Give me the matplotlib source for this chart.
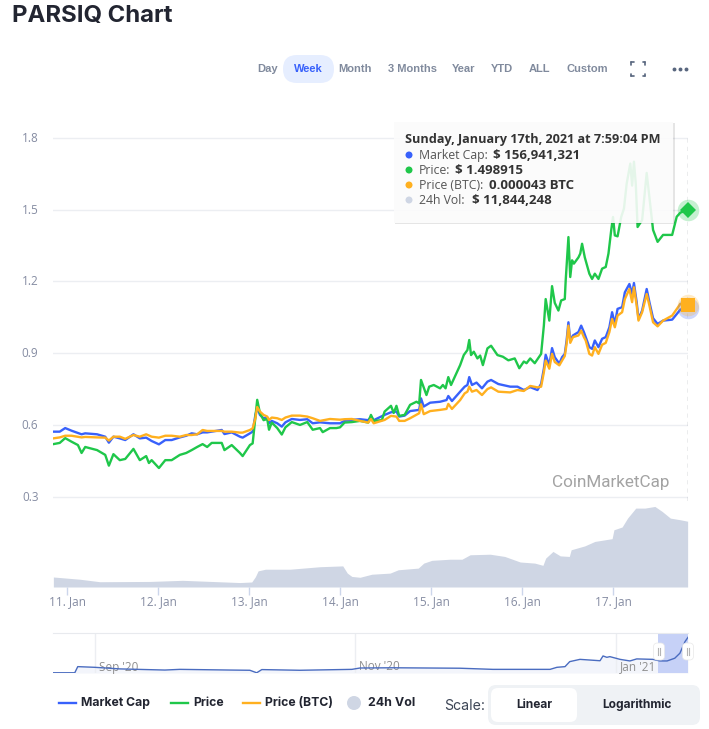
import matplotlib
matplotlib.use("Agg")
import matplotlib.pyplot as plt
from matplotlib.patches import FancyBboxPatch, Rectangle, Circle
from matplotlib.transforms import ScaledTranslation

W, H = 709, 729
BLUE, GREEN, ORANGE, VOLC = "#3861fb", "#1fc74a", "#ffb01f", "#cfd6e4"
plt.rcParams["font.family"] = ["Open Sans", "DejaVu Sans"]

# ------- data (days of January 2021; line values as read on the left scale)
price_days = [10.85,10.92,10.98,11.05,11.12,11.16,11.20,11.33,11.42,11.46,11.51,11.58,11.64,11.73,11.80,11.87,11.90,11.93,12.01,12.08,12.15,12.24,12.31,12.37,12.43,12.49,12.54,12.59,12.70,12.73,12.81,12.90,12.93,13.01,13.04,13.07,13.09,13.12,13.16,13.20,13.22,13.25,13.31,13.36,13.40,13.47,13.56,13.64,13.70,13.78,13.81,13.89,13.96,14.00,14.05,14.13,14.22,14.31,14.34,14.37,14.46,14.49,14.56,14.59,14.62,14.65,14.71,14.77,14.84,14.87,14.89,14.91,14.95,14.98,15.03,15.10,15.13,15.16,15.19,15.22,15.26,15.32,15.36,15.40,15.42,15.44,15.47,15.51,15.54,15.57,15.62,15.66,15.73,15.79,15.85,15.92,15.97,16.02,16.05,16.09,16.14,16.21,16.24,16.26,16.30,16.33,16.36,16.40,16.43,16.47,16.48,16.51,16.53,16.55,16.57,16.62,16.64,16.66,16.69,16.74,16.77,16.80,16.84,16.88,16.92,16.95,16.98,17.00,17.02,17.05,17.09,17.12,17.15,17.19,17.21,17.23,17.25,17.27,17.32,17.37,17.44,17.49,17.55,17.65,17.70,17.74,17.82]
price_values = [.52,.525,.545,.53,.516,.483,.508,.495,.475,.43,.478,.453,.458,.50,.453,.47,.441,.453,.42,.453,.453,.475,.483,.495,.508,.52,.508,.525,.525,.495,.516,.483,.47,.516,.523,.63,.705,.65,.62,.625,.58,.61,.587,.56,.59,.612,.60,.612,.58,.587,.57,.587,.587,.59,.61,.612,.617,.61,.642,.617,.62,.656,.68,.65,.68,.638,.642,.684,.697,.69,.788,.767,.725,.76,.767,.753,.767,.753,.80,.767,.80,.85,.892,.913,.955,.892,.906,.878,.89,.85,.92,.931,.892,.885,.87,.878,.837,.865,.858,.878,.858,.897,1.015,1.126,1.036,1.18,1.11,1.078,1.12,1.126,1.204,1.385,1.218,1.288,1.274,1.30,1.316,1.357,1.30,1.232,1.21,1.232,1.21,1.253,1.26,1.316,1.413,1.469,1.392,1.388,1.469,1.504,1.608,1.692,1.60,1.70,1.608,1.427,1.456,1.653,1.415,1.365,1.394,1.394,1.47,1.487,1.499]

cap_days = [10.85,10.92,10.98,11.05,11.16,11.20,11.33,11.42,11.46,11.51,11.58,11.64,11.73,11.80,11.87,11.93,12.01,12.08,12.15,12.24,12.31,12.37,12.43,12.49,12.54,12.70,12.73,12.81,12.90,12.93,13.01,13.04,13.07,13.09,13.12,13.16,13.20,13.22,13.25,13.31,13.36,13.40,13.47,13.56,13.64,13.70,13.78,13.89,14.00,14.05,14.13,14.22,14.31,14.34,14.37,14.49,14.56,14.62,14.65,14.71,14.77,14.87,14.89,14.92,14.99,15.10,15.17,15.19,15.23,15.32,15.37,15.40,15.42,15.45,15.50,15.56,15.62,15.66,15.74,15.87,15.95,16.02,16.09,16.17,16.21,16.24,16.26,16.30,16.33,16.36,16.41,16.44,16.47,16.49,16.51,16.53,16.56,16.62,16.65,16.68,16.70,16.74,16.77,16.80,16.84,16.88,16.92,16.96,16.99,17.02,17.05,17.10,17.13,17.18,17.21,17.23,17.26,17.28,17.32,17.37,17.40,17.44,17.49,17.55,17.65,17.74,17.82]
cap_values = [.572,.572,.587,.576,.561,.565,.561,.551,.526,.551,.544,.537,.561,.544,.547,.533,.519,.537,.537,.548,.555,.565,.561,.569,.569,.579,.562,.569,.551,.547,.565,.572,.642,.672,.642,.628,.631,.607,.617,.607,.593,.611,.625,.621,.624,.607,.611,.607,.607,.617,.621,.624,.62,.635,.62,.642,.653,.656,.635,.639,.658,.663,.711,.677,.693,.697,.704,.721,.70,.739,.76,.767,.80,.767,.777,.753,.781,.788,.771,.76,.76,.746,.758,.746,.772,.835,.893,.849,.921,.883,.856,.883,.897,.953,1.029,.953,.974,.988,1.015,.988,.967,.925,.918,.953,.925,.96,.967,1.008,1.071,1.022,1.085,1.092,1.154,1.189,1.147,1.193,1.113,1.043,1.078,1.168,1.113,1.046,1.022,1.036,1.04,1.082,1.089]
btc_values = [.544,.548,.555,.555,.548,.55,.548,.547,.535,.551,.551,.542,.558,.551,.561,.551,.547,.555,.555,.551,.558,.558,.561,.579,.575,.575,.572,.572,.568,.568,.579,.586,.628,.675,.656,.642,.635,.621,.631,.628,.621,.631,.639,.639,.635,.628,.617,.625,.622,.624,.625,.617,.61,.625,.607,.621,.638,.635,.617,.617,.628,.649,.686,.645,.658,.663,.667,.688,.667,.704,.732,.739,.76,.739,.746,.725,.75,.757,.739,.736,.746,.742,.763,.757,.76,.82,.869,.835,.897,.863,.849,.869,.888,.939,1.015,.943,.967,.974,.994,.967,.953,.897,.89,.925,.897,.935,.943,.988,1.043,1.008,1.057,1.071,1.126,1.168,1.113,1.175,1.099,1.036,1.071,1.147,1.099,1.029,1.012,1.036,1.057,1.106,1.10]

vol_days = [10.85,11.14,11.36,11.91,12.27,12.90,13.03,13.07,13.10,13.18,13.45,13.78,14.03,14.08,14.13,14.22,14.35,14.55,14.64,14.86,14.92,15.01,15.21,15.34,15.43,15.65,15.81,15.98,16.14,16.23,16.26,16.34,16.42,16.52,16.54,16.69,16.80,16.99,17.01,17.10,17.16,17.25,17.35,17.46,17.54,17.63,17.74,17.82]
vol_values = [1.8,1.4,.95,1.0,1.2,.8,.9,1.85,2.9,3.2,3.2,3.65,3.8,2.5,1.9,1.75,2.3,2.5,3.1,3.4,4.3,4.8,5.0,5.0,5.8,5.9,5.5,4.5,4.3,3.9,5.2,6.4,5.6,5.5,6.7,7.4,8.2,8.7,10.3,10.8,12.4,14.2,14.2,14.5,13.6,12.4,12.1,11.84]

nav_days = [-9.8,-4.7,-4,0,5.9,16.4,19.9,31.6,36.3,37.9,39.1,48,60.2,62.1,69.8,85.5,93.2,106.6,108.2,110.1,111.2,113.6,118.3,119,119.9,120.6,123,125.3,126.9,130.7,132.3,134,135.8,137,138.2,138.9]
nav_values = [1,1,28,25,18,13,16,13,12,1,15,12,16,22,23,21,16,16,25,28,50,60,54,75,69,72,60,53,62,60,53,53,65,87,138,157]

y_ticks = [.3,.6,.9,1.2,1.5,1.8]
day_ticks = [11,12,13,14,15,16,17]
day_labels = ["11. Jan","12. Jan","13. Jan","14. Jan","15. Jan","16. Jan","17. Jan"]
nav_ticks = [0,61,122]
nav_labels = ["Sep '20","Nov '20","Jan '21"]
range_buttons = ["Day","Week","Month","3 Months","Year","YTD","ALL","Custom"]
tip_rows = [("Market Cap:","$ 156,941,321"),("Price:","$ 1.498915"),("Price (BTC):","0.000043 BTC"),("24h Vol:","$ 11,844,248")]
legend_names = ["Market Cap","Price","Price (BTC)","24h Vol"]

def box(l, t, r, b):
    return [l/W, 1-b/H, (r-l)/W, (b-t)/H]

fig = plt.figure(figsize=(W/100, H/100), dpi=100, facecolor="white")

# ------- main chart
ax = fig.add_axes(box(53,115,688,587))
vol = ax.twinx()
ax.set_zorder(vol.get_zorder()+1)
ax.patch.set_visible(False)
vol.fill_between(vol_days, vol_values, 0, color=VOLC, lw=0)
vol.set_ylim(0, 84.96)
vol.axis("off")
ax.set_xlim(10.846, 17.824)
ax.set_ylim(-0.077, 1.895)
ax.set_yticks(y_ticks, [f"{v:.1f}" for v in y_ticks])
ax.set_xticks(day_ticks, day_labels)
ax.grid(axis="y", color="#eceef2", lw=1)
ax.set_axisbelow(True)
for s in ax.spines.values():
    s.set_visible(False)
ax.tick_params(axis="y", length=0, pad=10.5, labelsize=8.5, labelcolor="#858ca2")
ax.tick_params(axis="x", length=6, width=1, color="#ccd6eb", pad=-0.5, labelsize=8.5, labelcolor="#858ca2")
up = ScaledTranslation(0, 1/100, fig.dpi_scale_trans)
for lab in ax.get_yticklabels():
    lab.set_transform(lab.get_transform() + up)
ax.plot([price_days[-1]]*2, [1.8, 0.275], color="#9a9fa8", lw=1, ls=(0,(3,3)), zorder=2)
ax.plot(cap_days, cap_values, color=BLUE, lw=1.7, zorder=3)
ax.plot(price_days, price_values, color=GREEN, lw=1.7, zorder=4)
ax.plot(cap_days, btc_values, color=ORANGE, lw=1.7, zorder=5)
for days, vals, c, m, ms in [(cap_days,cap_values,BLUE,"o",5),(price_days,price_values,GREEN,"D",8),(cap_days,btc_values,ORANGE,"s",10)]:
    ax.plot(days[-1], vals[-1], "o", ms=15.5, color=c, alpha=.25, mew=0, clip_on=False, zorder=6)
    ax.plot(days[-1], vals[-1], m, ms=ms, color=c, mew=0, clip_on=False, zorder=7)

# ------- navigator
nav = fig.add_axes(box(53,633,688,673))
nav.fill_between(nav_days, nav_values, 0, color="#f3f5fb", lw=0, zorder=1)
nav.axvspan(131.9, 138.9, color="#c6d1f7", lw=0, zorder=1.2)
nav.plot(nav_days, nav_values, color="#4a6cc0", lw=1, zorder=3)
nav.set_xlim(-9.8, 138.9)
nav.set_ylim(0, 176)
nav.set_yticks([])
nav.set_xticks(nav_ticks, nav_labels)
nav.grid(axis="x", color="#eceef2", lw=1)
nav.set_axisbelow("line")
for k, s in nav.spines.items():
    s.set_visible(k == "top")
    s.set_color("#e8eaee")
nav.tick_params(axis="x", length=0, pad=-9, labelsize=8.5, labelcolor="#8f8f8f")
off = ScaledTranslation(4/100, 0, fig.dpi_scale_trans)
for lab in nav.get_xticklabels():
    lab.set_ha("left")
    lab.set_transform(lab.get_transform() + off)

# ------- page chrome drawn in pixel coordinates
ui = fig.add_axes([0,0,1,1], facecolor="none")
ui.set_xlim(0, W); ui.set_ylim(H, 0); ui.axis("off"); ui.set_zorder(10)

def rrect(l, t, r, b, rad, **kw):
    p = FancyBboxPatch((l+rad, t+rad), r-l-2*rad, b-t-2*rad, boxstyle=f"round,pad={rad},rounding_size={rad}", lw=kw.pop("lw",0), **kw)
    ui.add_patch(p)
    return p

ui.text(12, 16, "PARSIQ Chart", fontsize=17.2, fontweight="bold", family="Inter", color="#222531", va="center")

rrect(283, 55, 334, 83, 14, fc="#e6eeff")
btn_x = [268,308.5,355,412,463.5,502,539,587]
for name, x in zip(range_buttons, btn_x):
    ui.text(x, 69, name, fontsize=8, fontweight="bold", family="Liberation Sans", ha="center", va="center",
            color=BLUE if name == "Week" else "#808a9d")
for sx, sy in [(1,1),(-1,1),(1,-1),(-1,-1)]:
    cx, cy = 638+sx*7, 69+sy*7
    ui.plot([cx, cx-sx*2.5], [cy, cy], color="#58667e", lw=1.2, solid_capstyle="round")
    ui.plot([cx, cx], [cy, cy-sy*2.5], color="#58667e", lw=1.2, solid_capstyle="round")
ui.plot([674,680,686], [69,69,69], "o", ms=2.8, color="#58667e", mew=0)

ui.text(669, 482, "CoinMarketCap", fontsize=12.3, family="Roboto", color="#a3a3a3", ha="right", va="center", zorder=1)

# tooltip
ui.add_patch(Rectangle((395,222.5), 279, 1.5, fc="#000000", alpha=.10, lw=0))
ui.add_patch(Rectangle((673,123), 1.5, 100, fc="#000000", alpha=.10, lw=0))
ui.add_patch(Rectangle((394,122), 279, 100.5, fc="#fbfbfb", alpha=.9, lw=0))
ui.text(405, 139, "Sunday, January 17th, 2021 at 7:59:04 PM", fontsize=9.1, fontweight="bold", color="#333333", va="center")
tip_cols = [BLUE, GREEN, ORANGE, VOLC]
tip_val_x = [493, 455, 489, 472]
for i, ((a, b), c, vx) in enumerate(zip(tip_rows, tip_cols, tip_val_x)):
    y = 155 + i*15
    ui.add_patch(Circle((409, y), 3.5, fc=c, lw=0))
    ui.text(419, y, a, fontsize=8.8, color="#555555", va="center")
    ui.text(vx, y, b, fontsize=9.5, fontweight="bold", color="#333333", va="center")

# navigator handles
for x in (659, 688):
    rrect(x-5.5, 643, x+5.5, 660, 4, fc="white", ec="#e8e8e8", lw=.5)
    ui.plot([x-1.2, x-1.2], [648, 655], color="#b5b5b5", lw=.8)
    ui.plot([x+1.2, x+1.2], [648, 655], color="#b5b5b5", lw=.8)

# legend
leg_line_x = [59, 171, 243]
leg_text_x = [81, 193, 265]
for n, lx, tx, c in zip(legend_names, leg_line_x, leg_text_x, [BLUE, GREEN, ORANGE]):
    ui.plot([lx, lx+17], [703, 703], color=c, lw=1.7)
    ui.text(tx, 703, n, fontsize=8.8, fontweight="bold", family="Inter", color="#222531", va="center")
ui.add_patch(Circle((354, 703), 7, fc=VOLC, lw=0))
ui.text(368, 703, legend_names[3], fontsize=9, fontweight="bold", family="Inter", color="#222531", va="center")

ui.text(444, 706, "Scale:", fontsize=10.2, family="Inter", color="#3d4656", va="center")
rrect(488, 685, 700, 725, 8, fc="#eff2f5")
rrect(491, 688, 577, 722, 7, fc="white")
ui.text(534, 705, "Linear", fontsize=8.6, fontweight="bold", family="Inter", color="#222531", ha="center", va="center")
ui.text(637, 705, "Logarithmic", fontsize=8.6, fontweight="bold", family="Inter", color="#222531", ha="center", va="center")

fig.savefig("out.png", dpi=100)
